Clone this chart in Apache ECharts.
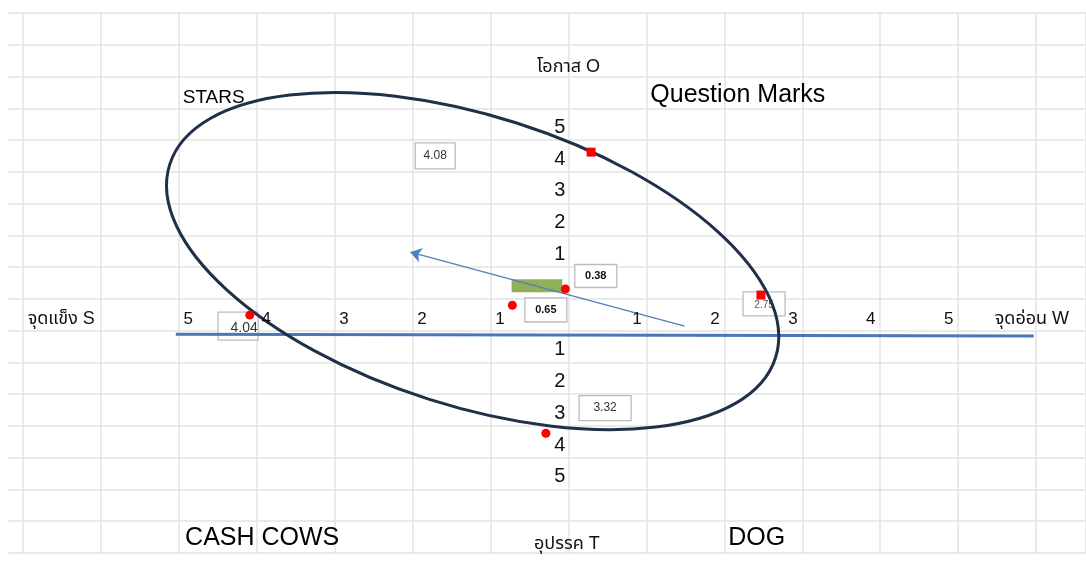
<!DOCTYPE html>
<html>
<head>
<meta charset="utf-8">
<title>SWOT matrix</title>
<script src="https://cdn.jsdelivr.net/npm/echarts@6/dist/echarts.min.js"></script>
<style>
  html, body { margin: 0; padding: 0; background: #fff; }
  #main { width: 1086px; height: 564px; }
</style>
</head>
<body>
<div id="main"></div>
<script>
// numbers on each arm of the two axes
const armTicks = [5, 4, 3, 2, 1];

// axis titles and quadrant names
const headTexts = ['โอกาส O', 'อุปรรค T', 'จุดแข็ง S', 'จุดอ่อน W'];
const quadTexts = ['STARS', 'Question Marks', 'CASH COWS', 'DOG'];

// scores shown in the little boxes, and the red dots
const scoreTexts = ['4.08', '4.04', '2.75', '3.32', '0.38', '0.65'];
const dotX = [0.29, -4.09, 2.47, -0.29, -0.04, -0.72];
const dotY = [4.62, -0.51, 0.12, -4.23, 0.31, -0.2];

// result vector and green bar
const arrowFrom = [1.49, -0.86];
const arrowTo = [-2.03, 1.47];
const barFrom = [-0.73, 0.62];
const barTo = [-0.08, 0.21];

// base line under the S-W labels
const baseFrom = [-5.04, -1.11];
const baseTo = [5.97, -1.17];

// ellipse: centre, half axes (x units), tilt in degrees
const ellCenter = [-1.23, 1.19];
const ellHalf = [4.08, 1.86];
const ellTilt = 17.7;

// layout (chart units), kept apart from the data
const headPos = [[0, 7.3, 'center'], [-0.02, -7.72, 'center'], [-6.94, -0.64, 'left'], [5.47, -0.64, 'left']];
const quadPos = [[-4.95, 6.32, 19], [1.05, 6.42, 25], [-4.92, -7.53, 25], [2.05, -7.53, 25]];
const boxPos = [
  { x: -1.71, y: 4.5, w: 40, h: 26, size: 12, bold: false, dx: 0, dy: 0, color: '#333' },
  { x: -4.24, y: -0.86, w: 40, h: 28, size: 14, bold: false, dx: 6, dy: 2, color: '#333' },
  { x: 2.51, y: -0.16, w: 42, h: 24, size: 10, bold: false, dx: 0, dy: 1, color: '#555' },
  { x: 0.47, y: -3.44, w: 52, h: 25, size: 12, bold: false, dx: 0, dy: 0, color: '#333' },
  { x: 0.35, y: 0.72, w: 42, h: 23, size: 11, bold: true, dx: 0, dy: 0, color: '#111' },
  { x: -0.29, y: -0.35, w: 42, h: 24, size: 11, bold: true, dx: 0, dy: 0, color: '#111' }
];

const FONT = '"Liberation Sans", Arial, "Noto Sans", "Noto Sans Thai", Tahoma, sans-serif';
const gridLine = { show: true, lineStyle: { color: '#e3e3e3', width: 1.5 } };

// builds a custom series that writes texts at chart coordinates
function textSeries(points, texts, style) {
  return {
    type: 'custom',
    z: 10,
    silent: true,
    data: points,
    renderItem: function (params, api) {
      const p = api.coord([api.value(0), api.value(1)]);
      const s = typeof style === 'function' ? style(params.dataIndex) : style;
      return {
        type: 'text',
        x: p[0],
        y: p[1],
        style: {
          text: texts[params.dataIndex],
          fontFamily: FONT,
          fontSize: s.size,
          fontWeight: s.weight || 'normal',
          fill: s.color || '#000',
          align: s.align || 'center',
          verticalAlign: 'middle'
        }
      };
    }
  };
}

const hTickPts = [], hTickTxt = [], vTickPts = [], vTickTxt = [];
armTicks.forEach(v => {
  hTickPts.push([-(v - 0.12), -0.64]); hTickTxt.push(String(v));
  hTickPts.push([v - 0.12, -0.64]); hTickTxt.push(String(v));
  vTickPts.push([-0.04, v + 0.4]); vTickTxt.push(String(v));
  vTickPts.push([-0.04, -(v + 0.6)]); vTickTxt.push(String(v));
});

const chart = echarts.init(document.getElementById('main'));
chart.setOption({
  animation: false,
  backgroundColor: '#fff',
  grid: [
    { left: 23, right: 0, top: 13, bottom: 11 },
    { left: 8, width: 15, top: 13, bottom: 11 }
  ],
  xAxis: [
    { type: 'value', gridIndex: 0, min: -7, max: 6.641, interval: 1,
      axisLine: { show: false }, axisTick: { show: false }, axisLabel: { show: false }, splitLine: gridLine },
    { type: 'value', gridIndex: 1, min: 0, max: 1, show: false }
  ],
  yAxis: [
    { type: 'value', gridIndex: 0, min: -8, max: 9, interval: 1,
      axisLine: { show: false }, axisTick: { show: false }, axisLabel: { show: false }, splitLine: gridLine },
    { type: 'value', gridIndex: 1, min: -8, max: 9, interval: 1,
      axisLine: { show: false }, axisTick: { show: false }, axisLabel: { show: false }, splitLine: gridLine }
  ],
  series: [
    // score boxes
    {
      type: 'custom',
      z: 2,
      data: boxPos.map(b => [b.x, b.y]),
      renderItem: function (params, api) {
        const b = boxPos[params.dataIndex];
        const p = api.coord([api.value(0), api.value(1)]);
        return {
          type: 'group',
          children: [
            { type: 'rect', shape: { x: p[0] - b.w / 2, y: p[1] - b.h / 2, width: b.w, height: b.h },
              style: { fill: '#fff', stroke: '#bcbcbc', lineWidth: 1.3 } },
            { type: 'text', x: p[0] + b.dx, y: p[1] + b.dy,
              style: { text: scoreTexts[params.dataIndex], fontFamily: FONT, fontSize: b.size,
                fontWeight: b.bold ? 'bold' : 'normal', fill: b.color, align: 'center', verticalAlign: 'middle' } }
          ]
        };
      }
    },
    // green bar
    {
      type: 'custom',
      z: 2,
      data: [[barFrom[0], barFrom[1], barTo[0], barTo[1]]],
      renderItem: function (params, api) {
        const a = api.coord([api.value(0), api.value(1)]);
        const b = api.coord([api.value(2), api.value(3)]);
        return { type: 'rect', shape: { x: a[0], y: a[1], width: b[0] - a[0], height: b[1] - a[1] },
          style: { fill: '#8fb058' } };
      }
    },
    // base line
    {
      type: 'line',
      z: 3,
      symbol: 'none',
      data: [baseFrom, baseTo],
      lineStyle: { color: '#4a78b4', width: 3 }
    },
    // ellipse
    {
      type: 'custom',
      z: 4,
      data: [ellCenter],
      renderItem: function (params, api) {
        const c = api.coord([api.value(0), api.value(1)]);
        const ux = api.size([1, 0])[0];
        return {
          type: 'ellipse',
          x: c[0], y: c[1],
          rotation: -ellTilt * Math.PI / 180,
          shape: { cx: 0, cy: 0, rx: ellHalf[0] * ux, ry: ellHalf[1] * ux },
          style: { fill: 'none', stroke: '#1f3048', lineWidth: 3 }
        };
      }
    },
    // arrow
    {
      type: 'lines',
      coordinateSystem: 'cartesian2d',
      z: 5,
      symbol: ['none', 'arrow'],
      symbolSize: [7, 11],
      lineStyle: { color: '#4f7fbd', width: 1.2, opacity: 1 },
      data: [{ coords: [arrowFrom, arrowTo] }]
    },
    // red dots
    {
      type: 'scatter',
      z: 6,
      data: dotX.map((x, i) => ({ value: [x, dotY[i]], symbol: i === 0 || i === 2 ? 'rect' : 'circle' })),
      symbolSize: 9,
      itemStyle: { color: '#f00', opacity: 1 }
    },
    textSeries(hTickPts, hTickTxt, { size: 17, color: '#111' }),
    textSeries(vTickPts, vTickTxt, { size: 20, color: '#111', align: 'right' }),
    textSeries(headPos.map(p => [p[0], p[1]]), headTexts, i => ({ size: 18, color: '#111', align: headPos[i][2] })),
    textSeries(quadPos.map(p => [p[0], p[1]]), quadTexts, i => ({ size: quadPos[i][2], color: '#000', align: 'left' }))
  ]
});
</script>
</body>
</html>
